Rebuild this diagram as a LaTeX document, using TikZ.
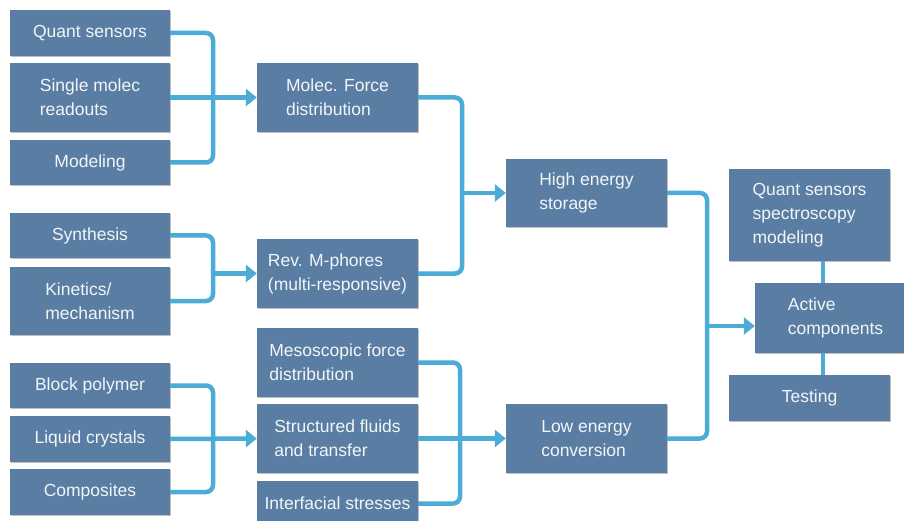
\documentclass[tikz,border=0pt]{standalone}
\usepackage{fontspec}
\setmainfont{Liberation Sans}
\usetikzlibrary{arrows.meta,shadows}
\definecolor{boxblue}{HTML}{5A7EA3}
\definecolor{linkblue}{HTML}{4AACD7}
\definecolor{boxtext}{HTML}{F2F5F8}
\begin{document}
\begin{tikzpicture}[x=1pt,y=-1pt,
  box/.style={fill=boxblue, text=boxtext, align=left, inner sep=0pt,
    font=\fontsize{17.5}{24}\selectfont,
    drop shadow={shadow xshift=0.8pt, shadow yshift=-1.2pt, opacity=0.25, fill=black}},
  narrow/.style={minimum width=160pt},
  wide/.style={minimum width=161pt},
  link/.style={draw=linkblue, line width=4.5pt, rounded corners=7pt},
  arr/.style={link, -{Triangle[length=11pt,width=17pt]}}]
\clip (0,0) rectangle (904,521);
\fill[white] (0,0) rectangle (904,521);

% left column
\node[box, narrow, minimum height=46pt] (q1) at (90,33) {Quant sensors};
\node[box, narrow, minimum height=69pt] (q2) at (90,97.5) {Single molec\\readouts};
\node[box, narrow, minimum height=45pt] (q3) at (90,162.5) {Modeling};
\node[box, narrow, minimum height=45pt] (s1) at (90,235.5) {Synthesis};
\node[box, narrow, minimum height=68pt] (s2) at (90,301) {Kinetics/\\mechanism};
\node[box, narrow, minimum height=45pt] (b1) at (90,385.5) {Block polymer};
\node[box, narrow, minimum height=46pt] (b2) at (90,439) {Liquid crystals};
\node[box, narrow, minimum height=46pt] (b3) at (90,492) {Composites};

% middle column
\node[box, wide, minimum height=69pt] (m1) at (337.5,97.5) {Molec. Force\\distribution};
\node[box, wide, minimum height=69pt] (m2) at (337.5,273.5) {Rev. M-phores\\(multi-responsive)};
\node[box, wide, minimum height=69pt] (m3) at (337.5,362.5) {Mesoscopic force\\distribution};
\node[box, wide, minimum height=69pt] (m4) at (337.5,438.5) {Structured fluids\\and transfer};
\node[box, wide, minimum height=45pt] (m5) at (337.5,503.5) {Interfacial stresses};

% third column
\node[box, wide, minimum height=68pt] (h1) at (586.5,193) {High energy\\storage};
\node[box, wide, minimum height=69pt] (h2) at (586.5,438.5) {Low energy\\conversion};

% right column
\node[box, wide, minimum height=92pt] (r1) at (809.5,215) {Quant sensors\\spectroscopy\\modeling};
\node[box, wide, minimum height=70pt] (r2) at (835.5,318) {Active\\components};
\node[box, wide, minimum height=46pt] (r3) at (809.5,398) {Testing};

% junction coordinates
\coordinate (j1) at (213,97.5);
\coordinate (j2) at (213,273.5);
\coordinate (j3) at (462,193);
\coordinate (j4) at (213,439);
\coordinate (j5) at (460,438.5);
\coordinate (j6) at (707,326);
\coordinate (jv) at (823,0);

% group 1
\draw[link] (q1.east) -| (j1) |- (q3.east);
\draw[arr] (q2.east) -- (m1.west);
% group 2
\draw[link] (s1.east) -| (j2) |- (s2.east);
\draw[arr] (j2) -- (m2.west);
% group 3
\draw[link] (m1.east) -| (j3) |- (m2.east);
\draw[arr] (j3) -- (h1.west);
% group 4
\draw[link] (b1.east) -| (j4) |- (b3.east);
\draw[arr] (b2.east) -- (m4.west);
% group 5
\draw[link] (m3.east) -| (j5) |- (m5.east);
\draw[arr] (m4.east) -- (h2.west);
% group 6
\draw[link] (h1.east) -| (j6) |- (h2.east);
\draw[arr] (j6) -- (j6 -| r2.west);
% verticals
\draw[link] (r1.south -| jv) -- (r2.north -| jv);
\draw[link] (r2.south -| jv) -- (r3.north -| jv);
\end{tikzpicture}
\end{document}
